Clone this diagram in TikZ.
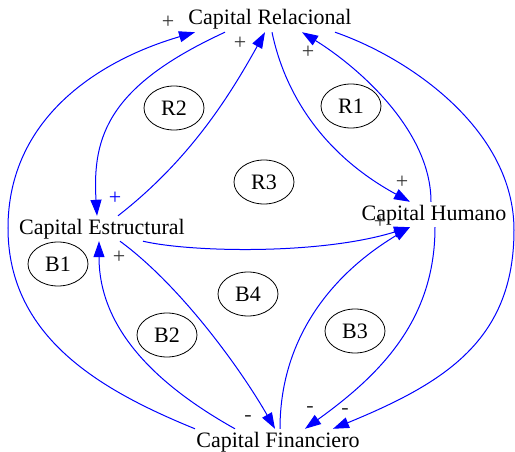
\documentclass[tikz,border=0pt]{standalone}
\usepackage{fontspec}
\setmainfont{Liberation Serif}
\usetikzlibrary{shapes.geometric,arrows.meta}
\definecolor{link}{HTML}{0000FF}
\definecolor{sign}{HTML}{333333}

\begin{document}
\begin{tikzpicture}[x=1pt,y=-1pt,
  every node/.style={font=\fontsize{22}{26}\selectfont, inner sep=0pt},
  stock/.style={anchor=base, text height=18pt, text depth=7pt},
  loopmark/.style={draw, ellipse, line width=0.8pt, minimum width=60pt, minimum height=44pt},
  flow/.style={draw=link, line width=1pt, -{Triangle[length=16pt,width=11pt]}},
  pol/.style={color=sign}]
  \useasboundingbox (0,0) rectangle (515,452);
  % Variables
  \node[stock] (Rel) at (270,25) {Capital Relacional};
  \node[stock] (Est) at (102,234) {Capital Estructural};
  \node[stock] (Hum) at (434,220) {Capital Humano};
  \node[stock] (Fin) at (278,447) {Capital Financiero};
  % Loops
  \node[loopmark] (R2) at (174,108) {R2};
  \node[loopmark] (R1) at (351,106) {R1};
  \node[loopmark] (R3) at (264,182) {R3};
  \node[loopmark] (B1) at (58,264) {B1};
  \node[loopmark] (B4) at (248,294) {B4};
  \node[loopmark] (B2) at (167,335) {B2};
  \node[loopmark] (B3) at (355,331) {B3};
  % Links
  \draw[flow] ([xshift=-83pt]Fin.north) .. controls +(-93,-38) and +(0,110) .. (8,228)
    .. controls +(0,-110) and +(-96,28) .. ([xshift=-75pt]Rel.south);
  \draw[flow] ([xshift=-45pt]Rel.south) .. controls +(-115,53) and +(-5,-81) .. ([xshift=-5pt]Est.north);
  \draw[flow] ([xshift=16pt]Est.north) .. controls +(72,-56) and +(-35,63) .. ([xshift=-5pt]Rel.south);
  \draw[flow] ([xshift=2pt]Rel.south) .. controls +(12,58) and +(-90,-49) .. ([xshift=-24pt]Hum.north);
  \draw[flow] ([xshift=-3pt]Hum.north) .. controls +(0,-72) and +(55,34) .. ([xshift=32pt]Rel.south);
  \draw[flow] ([xshift=65pt]Rel.south) .. controls +(75,26) and +(0,-100) .. (514,230)
    .. controls +(0,110) and +(112,-46) .. ([xshift=55pt]Fin.north);
  \draw[flow] ([xshift=1pt]Hum.south) .. controls +(0,93) and +(75,-54) .. ([xshift=27pt]Fin.north);
  \draw[flow] ([xshift=18pt]Est.south) .. controls +(60,44) and +(-35,-61) .. ([xshift=-3pt]Fin.north);
  \draw[flow] ([xshift=-43pt]Fin.north) .. controls +(-75,-42) and +(0,90) .. ([xshift=-3pt]Est.south);
  \draw[flow] ([xshift=2pt]Fin.north) .. controls +(0,-89) and +(-80,48) .. ([xshift=-24pt]Hum.south);
  \draw[flow] ([xshift=41pt]Est.south) .. controls +(47,11) and +(-90,28) .. ([xshift=-24pt]Hum.south);
  % Polarities
  \node[pol] (p1) at (168,22) {+};
  \node[pol] (p2) at (240,43) {+};
  \node[pol] (p3) at (308,52) {+};
  \node[pol] (p4) at (402,182) {+};
  \node[pol, color=link] (p5) at (115,198) {+};
  \node[pol] (p6) at (119,257) {+};
  \node[pol] (p7) at (380,222) {+};
  \node[pol] (m1) at (248,418) {-};
  \node[pol] (m2) at (310,409) {-};
  \node[pol] (m3) at (345,411) {-};
\end{tikzpicture}
\end{document}
